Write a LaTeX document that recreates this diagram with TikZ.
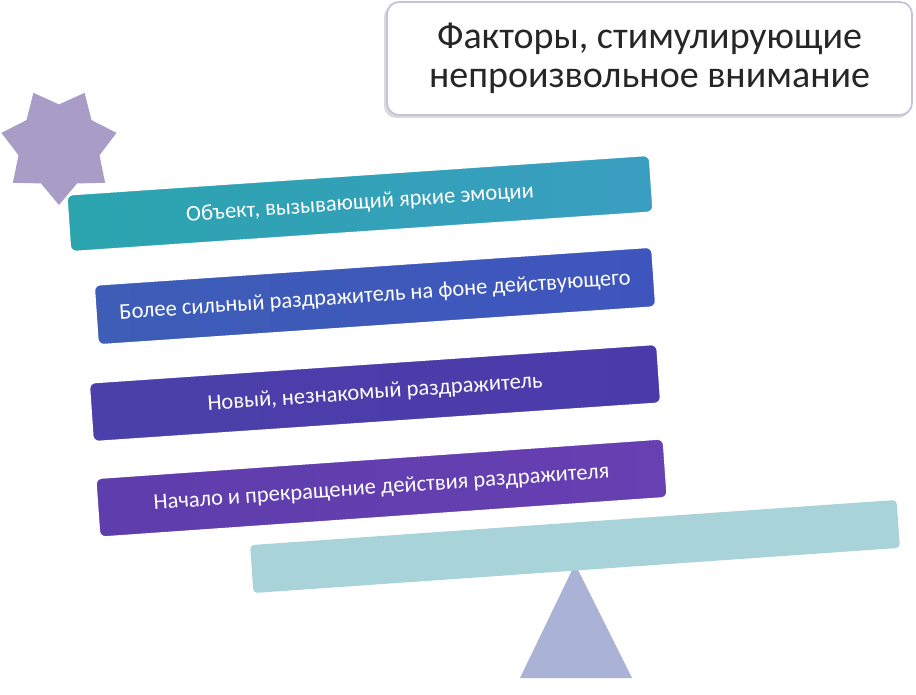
\documentclass[tikz,border=0pt]{standalone}
\usepackage{fontspec}
\setmainfont{Carlito}
\usepackage{xcolor}
\usetikzlibrary{shapes.geometric}
\definecolor{starlav}{HTML}{A99CC6}
\definecolor{titleline}{HTML}{C6C2D8}
\definecolor{titleshade}{HTML}{D9D9DE}
\definecolor{titletext}{HTML}{262626}
\definecolor{tealA}{HTML}{2BA4AE}
\definecolor{tealB}{HTML}{3A9EC1}
\definecolor{blueA}{HTML}{3D5DB6}
\definecolor{blueB}{HTML}{3F55BE}
\definecolor{indigoA}{HTML}{4B40AA}
\definecolor{indigoB}{HTML}{4A3BAA}
\definecolor{purpleA}{HTML}{5E3DAC}
\definecolor{purpleB}{HTML}{6740B2}
\definecolor{boardteal}{HTML}{A8D3D8}
\definecolor{fulcrum}{HTML}{AAB2D6}

\begin{document}
\begin{tikzpicture}[x=1pt, y=1pt,
  bar/.style={rounded corners=6pt, draw=white, line width=1.5pt, inner sep=0pt,
    text=white, font=\fontsize{22.5}{26}\selectfont},
  titlebox/.style={draw=titleline, line width=1.8pt, fill=white, rounded corners=12pt,
    align=center, text=titletext, font=\fontsize{38}{39}\selectfont}]
\useasboundingbox[fill=white] (0,0) rectangle (916,694);
\node[star, star points=7, star point ratio=1.42, minimum size=118pt, inner sep=0pt,
  fill=starlav, rotate=180] (star) at (59,548) {};
\fill[titleshade, rounded corners=12pt] (384,576) rectangle (910,689);
\node[titlebox, minimum width=525pt, minimum height=113pt] (title) at (649.5,635.5)
  {Факторы, стимулирующие\\непроизвольное внимание};
\fill[fulcrum] (575,130) -- (632,16) -- (520,16) -- cycle;
\node[fill=boardteal, rounded corners=4pt, minimum width=648pt, minimum height=48pt,
  inner sep=0pt, rotate=4] (board) at (575,147.5) {};
\node[bar, left color=tealA, right color=tealB, minimum width=584pt, minimum height=57pt,
  rotate=3.9] (emocii) at (360,490.5) {Объект, вызывающий яркие эмоции};
\node[bar, left color=blueA, right color=blueB, minimum width=559pt, minimum height=60pt,
  rotate=3.9] (silnyj) at (375,398) {Более сильный раздражитель на фоне действующего};
\node[bar, left color=indigoA, right color=indigoB, minimum width=569pt, minimum height=59pt,
  rotate=3.9] (novyj) at (375,301) {Новый, незнакомый раздражитель};
\node[bar, left color=purpleA, right color=purpleB, minimum width=569pt, minimum height=59pt,
  rotate=4] (nachalo) at (381.5,206) {Начало и прекращение действия раздражителя};
\end{tikzpicture}
\end{document}
